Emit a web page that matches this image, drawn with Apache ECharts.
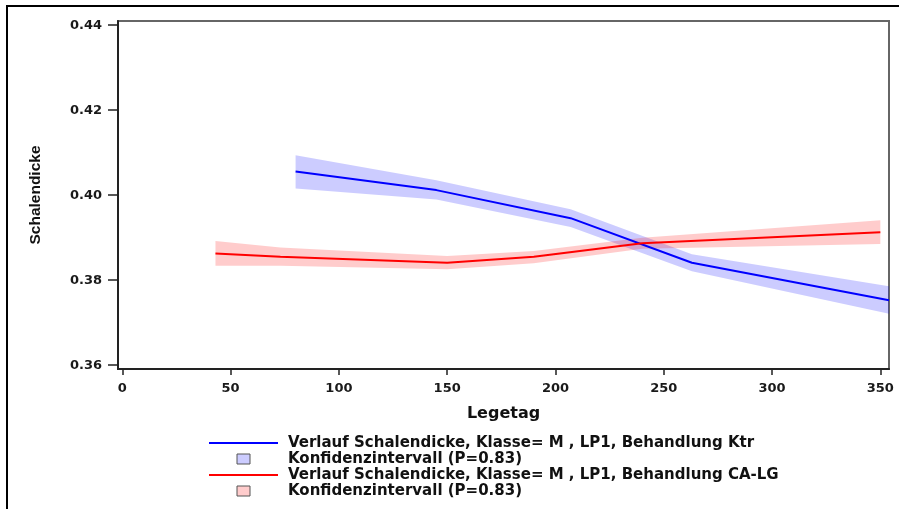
<!DOCTYPE html>
<html>
<head>
<meta charset="utf-8">
<script src="https://cdn.jsdelivr.net/npm/echarts@6/dist/echarts.min.js"></script>
<style>
html,body{margin:0;padding:0;background:#fff;}
#chart{width:899px;height:509px;}
</style>
</head>
<body>
<div id="chart"></div>
<script>
// ---- data ----
const xTicks = [0, 50, 100, 150, 200, 250, 300, 350];
const yTicks = [0.36, 0.38, 0.40, 0.42, 0.44];

const ktrName = 'Verlauf Schalendicke, Klasse= M , LP1, Behandlung Ktr';
const calgName = 'Verlauf Schalendicke, Klasse= M , LP1, Behandlung CA-LG';
const ciName = 'Konfidenzintervall (P=0.83)';

const ktrDays  = [80, 145, 207, 263, 354];
const ktrMean  = [0.4056, 0.4012, 0.3946, 0.3841, 0.3753];
const ktrLower = [0.4016, 0.3990, 0.3925, 0.3821, 0.3721];
const ktrUpper = [0.4094, 0.4035, 0.3967, 0.3861, 0.3786];

const calgDays  = [43, 73, 150, 190, 240, 350];
const calgMean  = [0.3863, 0.3855, 0.3841, 0.3855, 0.3887, 0.3913];
const calgLower = [0.3834, 0.3834, 0.3826, 0.3840, 0.3874, 0.3885];
const calgUpper = [0.3892, 0.3877, 0.3857, 0.3869, 0.3900, 0.3941];

// ---- helpers ----
const pairs = (xs, ys) => xs.map((x, i) => [x, ys[i]]);
const triples = (xs, lo, hi) => xs.map((x, i) => [x, lo[i], hi[i]]);

const FONT = 'DejaVu Sans';
const chart = echarts.init(document.getElementById('chart'));

function bandSeries(name, days, lo, hi, fill) {
  return {
    name: name, type: 'custom', silent: true, z: 1,
    color: fill,
    encode: { x: 0, y: [1, 2] },
    data: triples(days, lo, hi),
    renderItem: function (params, api) {
      if (params.dataIndexInside !== 0) return null;
      const n = params.dataInsideLength;
      const upper = [], lower = [];
      for (let i = 0; i < n; i++) {
        const x = api.value(0, i);
        lower.push(api.coord([x, api.value(1, i)]));
        upper.push(api.coord([x, api.value(2, i)]));
      }
      const pts = upper.concat(lower.reverse());
      return {
        type: 'polygon',
        shape: { points: pts },
        style: { fill: fill, stroke: null }
      };
    }
  };
}

const option = {
  animation: false,
  grid: {
    left: 118, right: 10, top: 21, bottom: 140,
    show: true, borderColor: '#666', borderWidth: 2, backgroundColor: '#fff'
  },
  graphic: [{
    type: 'rect', silent: true, z: -10,
    shape: { x: 7, y: 6, width: 1000, height: 1000 },
    style: { fill: 'none', stroke: '#000', lineWidth: 2 }
  }],
  xAxis: {
    type: 'value', min: -2, max: 354,
    name: 'Legetag', nameLocation: 'middle', nameGap: 37,
    nameTextStyle: { fontFamily: FONT, fontWeight: 'bold', fontSize: 16, color: '#111' },
    axisLine: { show: true, onZero: false, lineStyle: { color: '#222', width: 2 } },
    axisTick: { show: true, length: 6, customValues: xTicks, lineStyle: { color: '#222', width: 1.5 } },
    axisLabel: {
      customValues: xTicks, margin: 13,
      fontFamily: FONT, fontWeight: 'bold', fontSize: 13, color: '#1a1a1a'
    },
    splitLine: { show: false }
  },
  yAxis: {
    type: 'value', min: 0.3591, max: 0.4410,
    name: 'Schalendicke', nameLocation: 'middle', nameGap: 74, nameRotate: 90,
    nameTextStyle: { fontFamily: 'Liberation Sans', fontWeight: 'bold', fontSize: 15.5, color: '#111' },
    axisLine: { show: true, onZero: false, lineStyle: { color: '#222', width: 2 } },
    axisTick: { show: true, length: 10, customValues: yTicks, lineStyle: { color: '#222', width: 1.5 } },
    axisLabel: {
      customValues: yTicks, margin: 16,
      formatter: v => v.toFixed(2),
      fontFamily: FONT, fontWeight: 'bold', fontSize: 13, color: '#1a1a1a'
    },
    splitLine: { show: false }
  },
  legend: {
    orient: 'vertical', left: 209, top: 435, padding: 0,
    itemWidth: 69, itemHeight: 10, itemGap: 0, selectedMode: false,
    formatter: n => n.replace(/ #\d$/, ''),
    textStyle: {
      fontFamily: FONT, fontWeight: 'bold', fontSize: 15, color: '#111',
      lineHeight: 16, padding: [0, 0, 0, 5]
    },
    data: [
      { name: ktrName, icon: 'path://M0,0h69v2h-69z', itemStyle: { color: '#0000ff' } },
      { name: ciName + ' #1', icon: 'path://M0,0h13v10h-13z',
        itemStyle: { color: '#ccccff', borderColor: '#555', borderWidth: 1 } },
      { name: calgName, icon: 'path://M0,0h69v2h-69z', itemStyle: { color: '#ff0000' } },
      { name: ciName + ' #2', icon: 'path://M0,0h13v10h-13z',
        itemStyle: { color: '#ffcccc', borderColor: '#555', borderWidth: 1 } }
    ]
  },
  series: [
    bandSeries(ciName + ' #1', ktrDays, ktrLower, ktrUpper, 'rgba(0,0,255,0.2)'),
    bandSeries(ciName + ' #2', calgDays, calgLower, calgUpper, 'rgba(255,0,0,0.2)'),
    {
      name: ktrName, type: 'line', data: pairs(ktrDays, ktrMean),
      symbol: 'none', showSymbol: false, color: '#0000ff',
      lineStyle: { color: '#0000ff', width: 2 }, z: 3
    },
    {
      name: calgName, type: 'line', data: pairs(calgDays, calgMean),
      symbol: 'none', showSymbol: false, color: '#ff0000',
      lineStyle: { color: '#ff0000', width: 2 }, z: 3
    }
  ]
};
chart.setOption(option);
</script>
</body>
</html>
